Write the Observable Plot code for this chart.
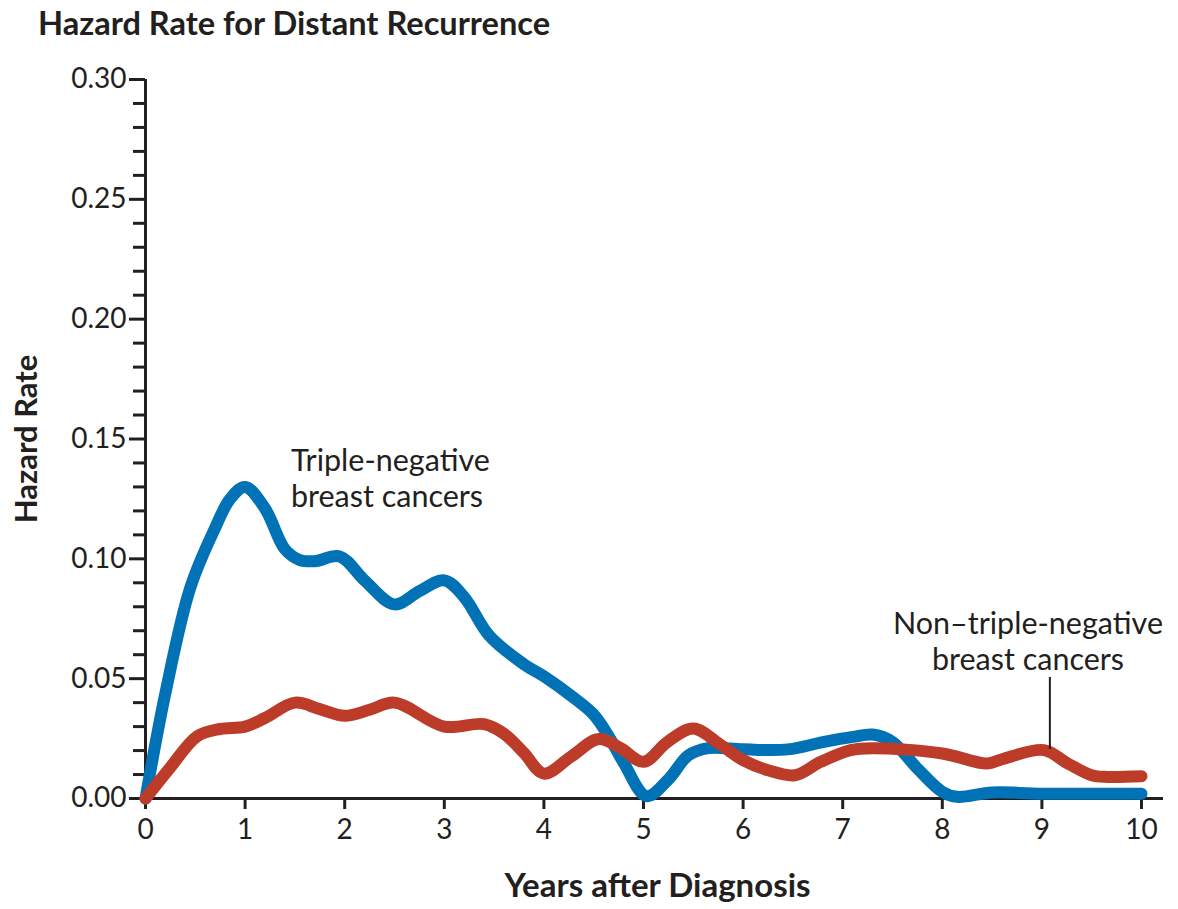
<!DOCTYPE html>
<html>
<head>
<meta charset="utf-8">
<script src="https://cdn.jsdelivr.net/npm/d3@7"></script>
<script src="https://cdn.jsdelivr.net/npm/@observablehq/plot@0.6"></script>
<style>
  html, body { margin: 0; padding: 0; background: #fff; }
  #title { height: 50px; box-sizing: border-box; padding-left: 38px; padding-top: 6px;
           font-family: Lato, sans-serif; font-weight: 700; font-size: 32.6px; color: #231f20; line-height: 34px; white-space: nowrap; }
  #chart svg { display: block; }
</style>
</head>
<body>
<div id="title">Hazard Rate for Distant Recurrence</div>
<div id="chart"></div>
<script>
// Triple-negative breast cancers (blue)
const tnYears = [0, 0.2, 0.45, 0.7, 0.85, 1.0, 1.2, 1.4, 1.55, 1.7, 1.95, 2.2, 2.5, 2.75, 3.0, 3.2, 3.45, 3.8, 4.0, 4.3, 4.5, 4.65, 4.8, 5.03, 5.25, 5.45, 5.65, 6.0, 6.45, 6.8, 7.1, 7.3, 7.5, 7.75, 8.0, 8.15, 8.5, 9.0, 10.0];
const tnRates = [0, 0.044, 0.088, 0.113, 0.125, 0.130, 0.121, 0.104, 0.0995, 0.099, 0.101, 0.091, 0.081, 0.0865, 0.091, 0.084, 0.068, 0.056, 0.051, 0.042, 0.035, 0.026, 0.015, 0.001, 0.008, 0.018, 0.021, 0.0205, 0.0205, 0.0235, 0.0257, 0.0267, 0.0236, 0.0125, 0.0028, 0.0007, 0.0025, 0.002, 0.002];

// Non-triple-negative breast cancers (red)
const nonYears = [0, 0.25, 0.52, 0.75, 1.0, 1.2, 1.5, 1.75, 2.0, 2.25, 2.5, 3.0, 3.4, 3.6, 3.8, 4.0, 4.27, 4.55, 4.77, 5.0, 5.24, 5.5, 5.78, 6.0, 6.25, 6.52, 6.78, 7.08, 7.3, 8.0, 8.45, 8.6, 9.02, 9.26, 9.5, 9.66, 10.0];
const nonRates = [0, 0.013, 0.026, 0.029, 0.030, 0.0336, 0.040, 0.0373, 0.0345, 0.037, 0.040, 0.030, 0.031, 0.027, 0.019, 0.0104, 0.0174, 0.0248, 0.021, 0.0153, 0.0236, 0.0292, 0.0222, 0.016, 0.0118, 0.0097, 0.0153, 0.0202, 0.021, 0.0188, 0.0146, 0.0164, 0.0202, 0.0146, 0.0097, 0.009, 0.0093];

// Axis ticks
const xTicks = [0, 1, 2, 3, 4, 5, 6, 7, 8, 9, 10];
const yMajorTicks = [0, 0.05, 0.10, 0.15, 0.20, 0.25, 0.30];
const yMinorTicks = [0.01, 0.02, 0.03, 0.04, 0.06, 0.07, 0.08, 0.09, 0.11, 0.12, 0.13, 0.14, 0.16, 0.17, 0.18, 0.19, 0.21, 0.22, 0.23, 0.24, 0.26, 0.27, 0.28, 0.29];

// Annotations
const tnLabel = "Triple-negative\nbreast cancers";
const tnLabelX = [1.46];
const tnLabelY = [0.1341];
const nonLabel = "Non\u2013triple-negative\nbreast cancers";
const nonLabelX = [8.86];
const nonLabelY = [0.0661];
const pointerX = [9.08];
const pointerY1 = [0.0205];
const pointerY2 = [0.0505];

const ink = "#231f20";
const blue = "#0072b5";
const red = "#bc3c29";

const tnData = tnYears.map((t, i) => ({t, v: tnRates[i]}));
const nonData = nonYears.map((t, i) => ({t, v: nonRates[i]}));
const tnLab = tnLabelX.map((x, i) => ({x, y: tnLabelY[i], text: tnLabel}));
const nonLab = nonLabelX.map((x, i) => ({x, y: nonLabelY[i], text: nonLabel}));
const pointer = pointerX.map((x, i) => ({x, y1: pointerY1[i], y2: pointerY2[i]}));

const chart = Plot.plot({
  width: 1178,
  height: 859,
  marginLeft: 145,
  marginRight: 37,
  marginTop: 29,
  marginBottom: 111,
  style: {fontFamily: "Lato, sans-serif", color: ink, background: "white", overflow: "visible"},
  x: {domain: [0, 10], label: null},
  y: {domain: [0, 0.30], label: null},
  marks: [
    Plot.axisY(yMinorTicks, {tickSize: 12, tickFormat: () => "", strokeWidth: 3, stroke: ink, label: null}),
    Plot.axisY(yMajorTicks, {tickSize: 16, tickPadding: 3, tickFormat: d => d.toFixed(2), fontSize: 28, strokeWidth: 3, stroke: ink, fill: ink, label: null}),
    Plot.axisX(xTicks, {tickSize: 11, tickPadding: 10, fontSize: 28, strokeWidth: 3, stroke: ink, fill: ink, label: null}),
    Plot.ruleX([0], {stroke: ink, strokeWidth: 3}),
    Plot.ruleY([0], {stroke: ink, strokeWidth: 3, insetRight: -22}),
    Plot.line(tnData, {x: "t", y: "v", stroke: blue, strokeWidth: 12, curve: "catmull-rom", strokeLinecap: "round", strokeLinejoin: "round"}),
    Plot.line(nonData, {x: "t", y: "v", stroke: red, strokeWidth: 12, curve: "catmull-rom", strokeLinecap: "round", strokeLinejoin: "round"}),
    Plot.ruleX(pointer, {x: "x", y1: "y1", y2: "y2", stroke: ink, strokeWidth: 2}),
    Plot.text(tnLab, {x: "x", y: "y", text: "text", textAnchor: "start", fontSize: 30.5, lineHeight: 1.2, fill: ink}),
    Plot.text(nonLab, {x: "x", y: "y", text: "text", textAnchor: "middle", fontSize: 30.5, lineHeight: 1.2, fill: ink}),
    Plot.text(["Hazard Rate"], {frameAnchor: "left", textAnchor: "middle", rotate: -90, dx: -118, fontSize: 31, fontWeight: 700, fill: ink}),
    Plot.text(["Years after Diagnosis"], {frameAnchor: "bottom", dx: 14, dy: 98, fontSize: 33, fontWeight: 700, fill: ink})
  ]
});
document.getElementById("chart").appendChild(chart);
</script>
</body>
</html>
